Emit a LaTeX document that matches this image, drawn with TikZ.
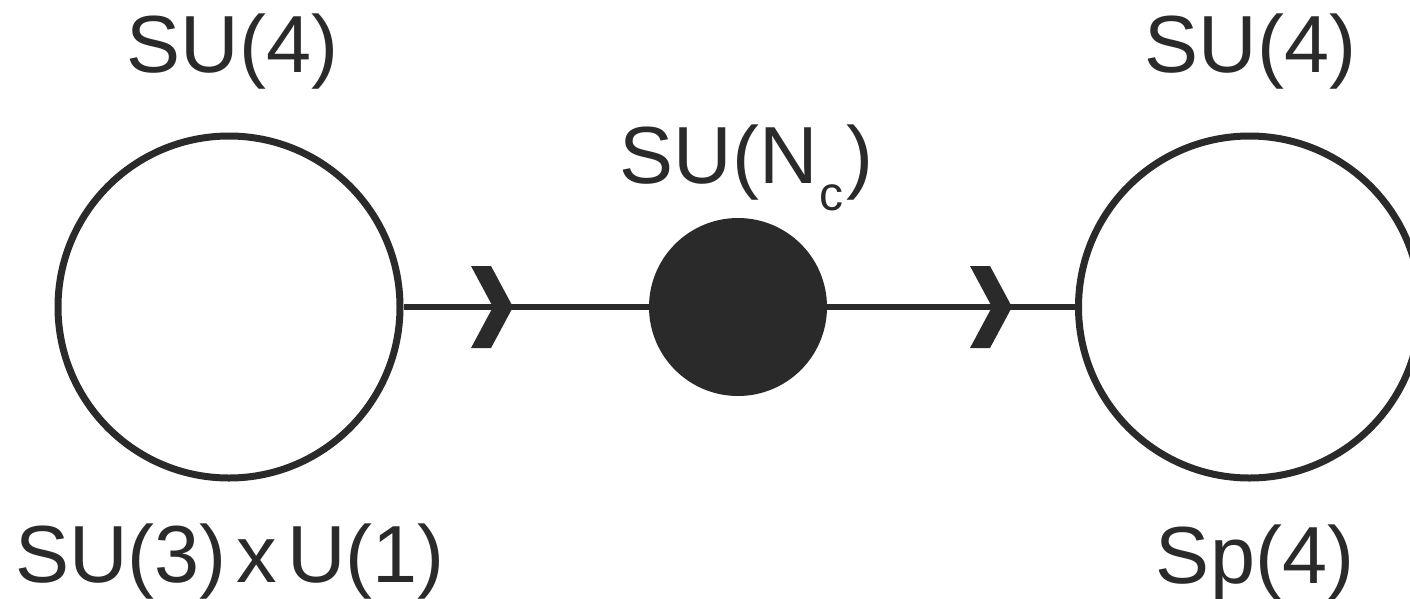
\documentclass[tikz,border=0pt]{standalone}
\usepackage{fontspec}
\setmainfont{Liberation Sans}
\definecolor{ink}{RGB}{42,42,42}
\tikzset{
  ring/.style={circle, draw=ink, line width=7pt, inner sep=0pt, minimum size=342pt},
  dot/.style={circle, fill=ink, inner sep=0pt, minimum size=178pt},
  conn/.style={draw=ink, line width=6pt},
  lab/.style={inner sep=0pt, anchor=base, text=ink, font=\fontsize{81}{97}\selectfont},
  chevron/.pic={\fill[ink] (-42,-41) -- (-22,-41) -- (0,0) -- (-22,41) -- (-42,41) -- (-20,0) -- cycle;}
}
\begin{document}
\begin{tikzpicture}[x=1pt,y=-1pt]
\useasboundingbox (0,0) rectangle (1410,598);
\clip (0,0) rectangle (1410,598);
\node[ring] (L) at (229,307) {};
\node[dot]  (M) at (738,307) {};
\node[ring] (R) at (1249.5,307) {};
\draw[conn] (L) -- (M);
\draw[conn] (M) -- (R);
\pic at (513,307) {chevron};
\pic at (1012,307) {chevron};
\node[lab] (t1) at (232.5,72) {SU(4)};
\node[lab] (t2) at (1250.5,72) {SU(4)};
\node[lab] (t3) at (746.5,183) {SU(N\kern2pt\raisebox{-27pt}{\fontsize{48}{50}\selectfont c}\kern3pt)};
\node[lab] (t4) at (230,582) {SU(3)\hspace{10pt}x\hspace{10pt}U(1)};
\node[lab] (t5) at (1255,583) {Sp(4)};
\end{tikzpicture}
\end{document}
